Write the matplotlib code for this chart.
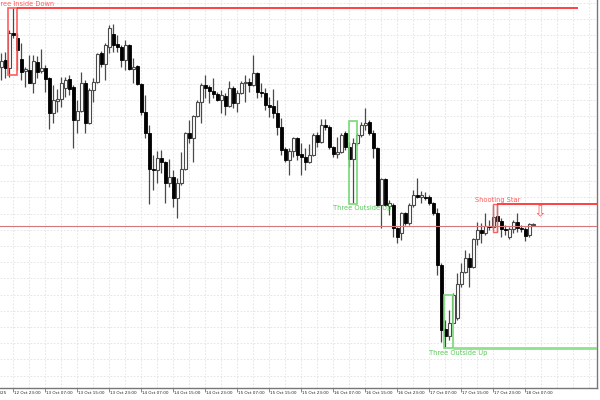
import numpy as np
import matplotlib
matplotlib.use("Agg")
import matplotlib.pyplot as plt
from matplotlib.patches import Rectangle

# ---- data (price units, arbitrary scale) ----
opens = [333, 340, 332, 367, 362, 341, 329, 330, 317, 338,
         329, 332, 322, 287, 299, 301, 312, 321, 313, 280,
         289, 317, 277, 310, 318, 347, 336, 353, 366, 356,
         353, 340, 355, 331, 334, 316, 288, 267, 231, 230,
         242, 238, 217, 223, 202, 217, 231, 267, 262, 284,
         298, 315, 313, 309, 306, 300, 304, 294, 312, 297,
         307, 317, 318, 315, 327, 308, 307, 295, 294, 287,
         273, 251, 240, 249, 262, 246, 243, 238, 245, 265,
         258, 275, 273, 253, 246, 248, 267, 253, 241, 257,
         265, 275, 278, 267, 252, 195, 221, 194, 195, 172,
         167, 187, 177, 195, 205, 203, 203, 203, 197, 187,
         135, 71, 64, 77, 82, 116, 128, 142, 133, 161,
         170, 167, 174, 173, 184, 179, 171, 163, 171, 178,
         172, 171, 165, 175]
closes = [339, 332, 367, 365, 350, 328, 331, 317, 339, 328,
          332, 321, 287, 300, 301, 317, 320, 311, 280, 289,
          317, 277, 310, 318, 346, 336, 355, 372, 355, 353,
          340, 355, 331, 333, 316, 288, 267, 231, 230, 242,
          238, 217, 223, 202, 217, 231, 267, 262, 284, 298,
          315, 312, 309, 306, 300, 305, 294, 312, 297, 307,
          317, 318, 315, 327, 308, 307, 295, 293, 287, 273,
          250, 240, 249, 262, 245, 243, 238, 245, 265, 258,
          275, 273, 253, 246, 248, 265, 253, 241, 257, 265,
          275, 277, 267, 252, 195, 221, 195, 197, 172, 163,
          187, 177, 195, 205, 203, 205, 202, 197, 187, 135,
          70, 64, 77, 105, 116, 128, 142, 133, 161, 170,
          167, 174, 173, 183, 179, 171, 170, 171, 178, 172,
          171, 164, 176, 176]
highs = [347, 348, 370, 392, 367, 357, 333, 345, 345, 344,
         351, 335, 323, 315, 311, 323, 323, 325, 315, 300,
         328, 320, 312, 322, 347, 349, 357, 375, 376, 365,
         355, 360, 356, 342, 335, 317, 305, 275, 245, 249,
         250, 239, 241, 230, 222, 248, 268, 280, 285, 300,
         317, 325, 315, 322, 308, 310, 307, 319, 314, 310,
         319, 325, 322, 345, 328, 317, 312, 303, 311, 300,
         282, 253, 252, 263, 263, 257, 252, 256, 267, 268,
         281, 281, 275, 254, 263, 267, 269, 258, 262, 267,
         278, 292, 280, 270, 253, 222, 222, 200, 197, 173,
         188, 188, 197, 210, 222, 209, 208, 205, 198, 192,
         137, 80, 90, 107, 127, 137, 150, 147, 162, 178,
         177, 187, 180, 195, 196, 182, 175, 173, 180, 187,
         175, 173, 177, 177]
lows = [320, 322, 323, 362, 330, 320, 313, 317, 307, 322,
        327, 308, 271, 277, 288, 293, 303, 305, 252, 267,
        288, 267, 276, 298, 317, 333, 320, 347, 348, 348,
        333, 330, 330, 317, 315, 285, 262, 196, 210, 217,
        227, 197, 213, 193, 182, 215, 230, 257, 238, 283,
        277, 302, 297, 302, 299, 287, 285, 293, 292, 288,
        306, 298, 308, 314, 302, 303, 290, 283, 282, 265,
        245, 238, 225, 243, 240, 225, 230, 237, 244, 253,
        257, 270, 251, 243, 242, 247, 250, 233, 197, 255,
        263, 270, 265, 242, 194, 172, 194, 185, 163, 157,
        160, 175, 175, 193, 202, 197, 200, 195, 185, 125,
        58, 53, 60, 77, 80, 113, 127, 113, 132, 155,
        157, 165, 170, 170, 168, 163, 165, 161, 167, 168,
        168, 159, 163, 174]

tick_labels = ["12 Oct 23:00", "13 Oct 07:00", "13 Oct 15:00", "13 Oct 23:00", "14 Oct 07:00",
               "14 Oct 15:00", "14 Oct 23:00", "15 Oct 07:00", "15 Oct 15:00", "15 Oct 23:00",
               "16 Oct 07:00", "16 Oct 15:00", "16 Oct 23:00", "17 Oct 07:00", "17 Oct 15:00",
               "17 Oct 23:00", "18 Oct 07:00"]
first_label = "12 Oct 2025"

bid_price = 174

# pattern annotations: (label, left idx, right idx, top price, bottom price)
three_inside_down = ("Three Inside Down", 1.7, 3.9, 392, 325)
three_outside_up_1 = ("Three Outside Up", 86.9, 88.9, 279, 196)
three_outside_up_2 = ("Three Outside Up", 110.7, 112.9, 105, 52)
shooting_star = ("Shooting Star", 122.9, 123.9, 196, 168)

# ---- figure ----
fig = plt.figure(figsize=(6, 4), dpi=100)
ax = fig.add_axes([0, 12 / 400, 597 / 600, 388 / 400])
ax.set_facecolor("white")

n = len(opens)
idx = np.arange(n)
o = np.array(opens, float); c = np.array(closes, float)
h = np.array(highs, float); l = np.array(lows, float)
bull = c >= o

ax.vlines(idx, l, h, color="#4a4a4a", linewidth=0.9, zorder=2)
bottoms = np.minimum(o, c)
heights = np.maximum(np.abs(c - o), 0.8)
ax.bar(idx[bull], heights[bull], bottom=bottoms[bull], width=0.72,
       facecolor="white", edgecolor="#4a4a4a", linewidth=0.8, zorder=3)
ax.bar(idx[~bull], heights[~bull], bottom=bottoms[~bull], width=0.72,
       facecolor="black", edgecolor="black", linewidth=0.6, zorder=3)

xmin, xmax = -0.325, 148.9
ax.set_xlim(xmin, xmax)
ax.set_ylim(12, 400)

# grid
major = np.arange(3, 3 + 8 * len(tick_labels), 8)
minor = np.arange(3, 150, 4)
for xg in minor:
    ax.axvline(xg, color="#e2e2e2", linewidth=0.6, linestyle=(0, (2, 2)), zorder=0)
for yg in np.arange(283.7 - 16.2 * 17, 400, 16.2):
    ax.axhline(yg, color="#e2e2e2", linewidth=0.6, linestyle=(0, (2, 2)), zorder=0)

# bid line
ax.axhline(bid_price, color="#d07a7a", linewidth=0.8, zorder=4)

red = "#ff2020"
red_soft = "#ff5c5c"
green = "#78d878"
green_txt = "#5cc85c"

def rect(spec, color, lw=1.2):
    _, x0, x1, top, bot = spec
    ax.add_patch(Rectangle((x0, bot), x1 - x0, top - bot, fill=False,
                           edgecolor=color, linewidth=lw, zorder=5))

# Three Inside Down
rect(three_inside_down, red_soft)
ax.hlines(three_inside_down[3], three_inside_down[2], 144.2, color=red, linewidth=1.2, zorder=5)
ax.text(three_inside_down[1] - 3.9, three_inside_down[3] + 0.5, three_inside_down[0],
        color=red_soft, fontsize=4.8, ha="left", va="bottom", zorder=6)

# Three Outside Up 1
rect(three_outside_up_1, green)
ax.text(three_outside_up_1[1] - 3.9, three_outside_up_1[4] - 1, three_outside_up_1[0],
        color=green_txt, fontsize=4.8, ha="left", va="top", zorder=6)

# Three Outside Up 2
rect(three_outside_up_2, green)
ax.hlines(three_outside_up_2[4], three_outside_up_2[2], xmax, color="#8fe08f", linewidth=2.0, zorder=5)
ax.text(three_outside_up_2[1] - 3.7, three_outside_up_2[4] - 1.5, three_outside_up_2[0],
        color=green_txt, fontsize=4.8, ha="left", va="top", zorder=6)

# Shooting Star
rect(shooting_star, red_soft, lw=1.0)
ax.hlines(shooting_star[3], shooting_star[2], xmax, color=red, linewidth=1.2, zorder=5)
ax.text(shooting_star[1] - 4.4, shooting_star[3] + 1.2, shooting_star[0],
        color=red_soft, fontsize=4.8, ha="left", va="bottom", zorder=6)
ax.text(134.6, 188.5, "\u21e9", color=red_soft, fontsize=11, ha="center", va="center", zorder=6)

# axes styling
for s in ["left", "top"]:
    ax.spines[s].set_visible(False)
for s in ["bottom", "right"]:
    ax.spines[s].set_color("#777777")
    ax.spines[s].set_linewidth(1.0)
ax.set_yticks([])
ax.set_xticks(major)
ax.set_xticklabels([])
ax.tick_params(axis="x", length=3, width=0.6, color="#777777", direction="out")

tr = ax.get_xaxis_transform()
for xp, lab in zip(major, tick_labels):
    ax.text(xp + 0.25, -0.009, lab, transform=tr, fontsize=3.0, color="#222222",
            ha="left", va="top", clip_on=False)
ax.text(1.2, -0.009, first_label, transform=tr, fontsize=3.0, color="#222222",
        ha="right", va="top", clip_on=False)

fig.savefig("out.png", dpi=100, facecolor="white")
